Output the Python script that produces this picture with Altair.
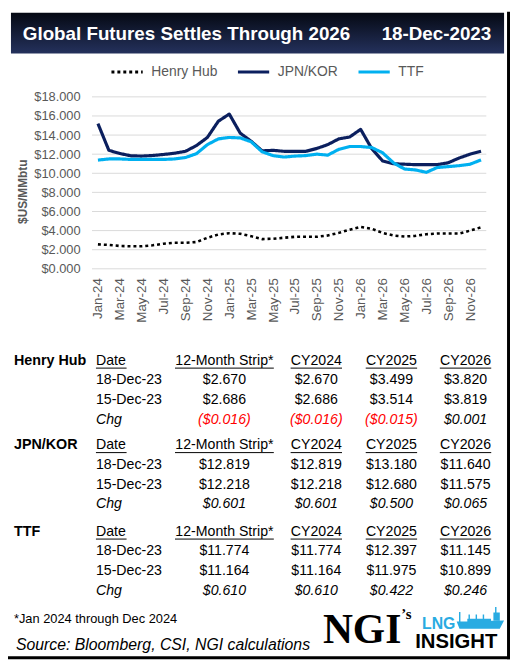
import altair as alt
import pandas as pd

W, H = 508, 656
FONT = "Liberation Sans"
GREY = "#595959"

# ---------------- data ----------------
month_names = ["Jan", "Feb", "Mar", "Apr", "May", "Jun", "Jul", "Aug", "Sep", "Oct", "Nov", "Dec"]
years = ["24", "25", "26"]
months = [f"{m}-{y}" for y in years for m in month_names]

henry_hub = [2.56, 2.50, 2.39, 2.36, 2.36, 2.46, 2.63, 2.73, 2.73, 2.80, 3.25, 3.59,
             3.73, 3.66, 3.42, 3.11, 3.15, 3.25, 3.35, 3.35, 3.35, 3.49, 3.76, 4.10,
             4.38, 4.20, 3.76, 3.49, 3.38, 3.45, 3.62, 3.69, 3.69, 3.69, 4.00, 4.34]
jpn_kor = [15.20, 12.40, 12.07, 11.83, 11.80, 11.86, 11.97, 12.10, 12.30, 12.90, 13.75, 15.45,
           16.20, 14.20, 13.35, 12.35, 12.40, 12.30, 12.30, 12.30, 12.60, 13.00, 13.60, 13.80,
           14.60, 12.60, 11.30, 11.00, 10.95, 10.90, 10.90, 10.90, 11.10, 11.60, 12.00, 12.30]
ttf = [11.38, 11.50, 11.50, 11.45, 11.45, 11.45, 11.45, 11.50, 11.65, 12.05, 13.00, 13.60,
       13.75, 13.70, 13.30, 12.25, 11.85, 11.70, 11.80, 11.85, 12.00, 11.90, 12.50, 12.80,
       12.80, 12.70, 12.15, 11.10, 10.45, 10.35, 10.10, 10.60, 10.70, 10.80, 10.95, 11.40]

series_names = ["Henry Hub", "JPN/KOR", "TTF"]
series_colors = ["#000000", "#0b1f5e", "#00b0f0"]
series_dash = [[3, 3], [1, 0], [1, 0]]
y_ticks = [0, 2, 4, 6, 8, 10, 12, 14, 16, 18]

title_text = "Global Futures Settles Through 2026"
date_text = "18-Dec-2023"
y_title = "$US/MMbtu"

table_sections = ["Henry Hub", "JPN/KOR", "TTF"]
col_headers = ["12-Month Strip*", "CY2024", "CY2025", "CY2026"]
row_dates = ["18-Dec-23", "15-Dec-23"]
hh_1218 = [2.670, 2.670, 3.499, 3.820]
hh_1215 = [2.686, 2.686, 3.514, 3.819]
hh_chg = [-0.016, -0.016, -0.015, 0.001]
jk_1218 = [12.819, 12.819, 13.180, 11.640]
jk_1215 = [12.218, 12.218, 12.680, 11.575]
jk_chg = [0.601, 0.601, 0.500, 0.065]
ttf_1218 = [11.774, 11.774, 12.397, 11.145]
ttf_1215 = [11.164, 11.164, 11.975, 10.899]
ttf_chg = [0.610, 0.610, 0.422, 0.246]
footnote = "*Jan 2024 through Dec 2024"
source = "Source: Bloomberg, CSI, NGI calculations"

# ---------------- layout ----------------
label_x = 6
date_x = 89
value_cx = [219, 312, 388, 463]
underline_hw = [50, 26, 26, 26]
section_y = [353, 438.5, 526]
row_step = 20


def money(v):
    return f"(${abs(v):.3f})" if v < 0 else f"${v:.3f}"


one = pd.DataFrame({"k": [0]})


def px_x(field="x"):
    return alt.X(f"{field}:Q", scale=alt.Scale(domain=[0, W], range=[0, W], nice=False, zero=False), axis=None)


def px_y(field="y"):
    return alt.Y(f"{field}:Q", scale=alt.Scale(domain=[0, H], range=[0, H], nice=False, zero=False), axis=None)


def text_layer(df, align, size, weight="normal", style="normal", color="black", color_field=False, font=FONT, baseline="middle"):
    enc = dict(x=px_x(), y=px_y(), text="text:N")
    if color_field:
        enc["color"] = alt.Color("color:N", scale=None)
    return alt.Chart(df).mark_text(align=align, baseline=baseline, font=font, fontSize=size,
                                   fontWeight=weight, fontStyle=style, color=color).encode(**enc)


# ---------------- header ----------------
grad = alt.LinearGradient(gradient="linear",
                          stops=[alt.GradientStop(color="#050913", offset=0),
                                 alt.GradientStop(color="#24315c", offset=1)],
                          x1=0, x2=0, y1=0, y2=1)
header_bg = alt.Chart(one).mark_rect(color=grad).encode(
    x=alt.value(3), x2=alt.value(502), y=alt.value(1), y2=alt.value(42))
header_title = alt.Chart(one).mark_text(align="left", baseline="middle", font=FONT, fontSize=19,
                                        fontWeight="bold", color="white", text=title_text).encode(
    x=alt.value(15), y=alt.value(22))
header_date = alt.Chart(one).mark_text(align="right", baseline="middle", font=FONT, fontSize=19,
                                       fontWeight="bold", color="white", text=date_text).encode(
    x=alt.value(489), y=alt.value(22))

# frame
frame_right = alt.Chart(one).mark_rect(color="black").encode(
    x=alt.value(505), x2=alt.value(508), y=alt.value(0), y2=alt.value(655))
frame_bottom = alt.Chart(one).mark_rect(color="black").encode(
    x=alt.value(0), x2=alt.value(508), y=alt.value(652), y2=alt.value(655))

# ---------------- line chart ----------------
long = pd.DataFrame({
    "month": months * 3,
    "series": sum([[s] * len(months) for s in series_names], []),
    "value": henry_hub + jpn_kor + ttf,
})


def y_scale():
    return alt.Scale(domain=[0, 18], range=[260, 86], nice=False, zero=False)


x_scale = alt.Scale(type="point", domain=months, range=[91, 478.7], padding=0)
legend = alt.Legend(orient="none", legendX=103, legendY=43, direction="horizontal", title=None,
                    symbolType="stroke", symbolSize=1000, symbolStrokeWidth=3,
                    labelFont=FONT, labelFontSize=14, labelColor=GREY, labelOffset=7,
                    columnPadding=14)

# grid rules + y axis (own layer)
grid_df = pd.DataFrame({"tick": y_ticks, "x0": [85] * len(y_ticks), "x1": [484] * len(y_ticks)})
grid = alt.Chart(grid_df).mark_rule(color="#d9d9d9", strokeWidth=1).encode(
    x=px_x("x0"), x2="x1:Q",
    y=alt.Y("tick:Q", scale=y_scale(),
            axis=alt.Axis(values=y_ticks, format="$.3f", labelPadding=12, offset=-85,
                          labelFontSize=13, labelColor=GREY, labelFont=FONT, ticks=False,
                          domain=False, grid=False, title=None)))


def series_line(name, width):
    return alt.Chart(long).transform_filter(alt.datum.series == name).mark_line(strokeWidth=width, strokeJoin="round").encode(
        x=alt.X("month:N", scale=x_scale,
                axis=alt.Axis(values=months[::2], labelAngle=270, labelPadding=9, labelFontSize=13.5,
                              labelColor=GREY, labelFont=FONT, ticks=False, domain=False, grid=False,
                              title=None, orient="bottom", offset=-(H - 260))),
        y=alt.Y("value:Q", scale=y_scale(), axis=None),
        color=alt.Color("series:N", scale=alt.Scale(domain=series_names, range=series_colors), legend=legend),
        strokeDash=alt.StrokeDash("series:N", scale=alt.Scale(domain=series_names, range=series_dash), legend=legend),
    )


line_chart = alt.layer(series_line("Henry Hub", 2.6), series_line("JPN/KOR", 3.2), series_line("TTF", 3.2))

y_title_mark = alt.Chart(one).mark_text(align="center", baseline="middle", font=FONT, fontSize=12,
                                        fontWeight="bold", color=GREY, angle=270, text=y_title).encode(
    x=alt.value(15), y=alt.value(182))

# ---------------- tables ----------------
sec_rows = [(hh_1218, hh_1215, hh_chg), (jk_1218, jk_1215, jk_chg), (ttf_1218, ttf_1215, ttf_chg)]
bold_rows, left_rows, italic_left, center_rows, italic_center, underl = [], [], [], [], [], []
for name, sy, (r1, r2, chg) in zip(table_sections, section_y, sec_rows):
    bold_rows.append({"text": name, "x": label_x, "y": sy})
    left_rows.append({"text": "Date", "x": date_x, "y": sy})
    underl.append({"x": date_x, "x2": date_x + 31, "y": sy + 7.5})
    for h, cx, hw in zip(col_headers, value_cx, underline_hw):
        center_rows.append({"text": h, "x": cx, "y": sy})
        underl.append({"x": cx - hw, "x2": cx + hw, "y": sy + 7.5})
    for d, vals, k in zip(row_dates, (r1, r2), (1, 2)):
        left_rows.append({"text": d, "x": date_x, "y": sy + k * row_step})
        for v, cx in zip(vals, value_cx):
            center_rows.append({"text": money(v), "x": cx, "y": sy + k * row_step})
    italic_left.append({"text": "Chg", "x": date_x, "y": sy + 3 * row_step})
    for v, cx in zip(chg, value_cx):
        italic_center.append({"text": money(v), "x": cx, "y": sy + 3 * row_step,
                              "color": "#ff0000" if v < 0 else "#000000"})

t_bold = text_layer(pd.DataFrame(bold_rows), "left", 14.5, weight="bold")
t_left = text_layer(pd.DataFrame(left_rows), "left", 14.3)
t_ileft = text_layer(pd.DataFrame(italic_left), "left", 14.3, style="italic")
t_center = text_layer(pd.DataFrame(center_rows), "center", 14.3)
t_icenter = text_layer(pd.DataFrame(italic_center), "center", 14.3, style="italic", color_field=True)
t_under = alt.Chart(pd.DataFrame(underl)).mark_rule(color="black", strokeWidth=1).encode(
    x=px_x("x"), x2="x2:Q", y=px_y("y"))

# ---------------- footer ----------------
t_foot = text_layer(pd.DataFrame([{"text": footnote, "x": 6, "y": 614}]), "left", 13)
t_source = text_layer(pd.DataFrame([{"text": source, "x": 8, "y": 641}]), "left", 16, style="italic")

# logo
logo_ngi = alt.Chart(one).mark_text(align="right", baseline="alphabetic", font="Liberation Serif",
                                    fontSize=42, fontWeight="bold", color="black", text="NGI").encode(
    x=alt.value(398), y=alt.value(639))
logo_s = alt.Chart(one).mark_text(align="left", baseline="top", font="Liberation Serif",
                                  fontSize=15, fontWeight="bold", color="black", text="\u2019s").encode(
    x=alt.value(398), y=alt.value(602))
logo_lng = alt.Chart(one).mark_text(align="left", baseline="alphabetic", font=FONT,
                                    fontSize=16, fontWeight="bold", color="#29abe2", text="LNG").encode(
    x=alt.value(419), y=alt.value(624))
ship_path = ("M -1 0 L 1 -0.05 L 0.82 0.3 L -0.88 0.3 Z "
             "M -0.55 0 L -0.55 -0.12 L 0.45 -0.12 L 0.45 0 Z "
             "M -0.5 -0.12 L -0.5 -0.3 L -0.44 -0.3 L -0.44 -0.12 Z "
             "M -0.2 -0.12 L -0.2 -0.3 L -0.14 -0.3 L -0.14 -0.12 Z "
             "M 0.1 -0.12 L 0.1 -0.3 L 0.16 -0.3 L 0.16 -0.12 Z "
             "M 0.55 -0.05 L 0.55 -0.38 L 0.82 -0.38 L 0.82 -0.05 Z "
             "M 0.62 -0.38 L 0.62 -0.62 L 0.68 -0.62 L 0.68 -0.38 Z "
             "M -0.9 0 L -0.9 -0.4 L -0.84 -0.4 L -0.84 0 Z")
logo_ship = alt.Chart(one).mark_point(shape=ship_path, filled=True, color="#29abe2", size=2304, opacity=1).encode(
    x=alt.value(478), y=alt.value(617))
logo_insight = alt.Chart(one).mark_text(align="left", baseline="alphabetic", font=FONT,
                                        fontSize=20.5, fontWeight="bold", color="black", text="INSIGHT").encode(
    x=alt.value(412), y=alt.value(644))

chart = alt.layer(
    header_bg, header_title, header_date, frame_right, frame_bottom,
    grid, line_chart, y_title_mark,
    t_bold, t_left, t_ileft, t_center, t_icenter, t_under,
    t_foot, t_source,
    logo_ngi, logo_s, logo_lng, logo_ship, logo_insight,
).resolve_scale(
    x="independent", y="independent", color="independent", strokeDash="independent"
).properties(
    width=W, height=H, padding=0, autosize=alt.AutoSizeParams(type="none"), background="white"
).configure_view(stroke=None)

chart.save("out.html", embed_options={"renderer": "svg", "actions": False})
